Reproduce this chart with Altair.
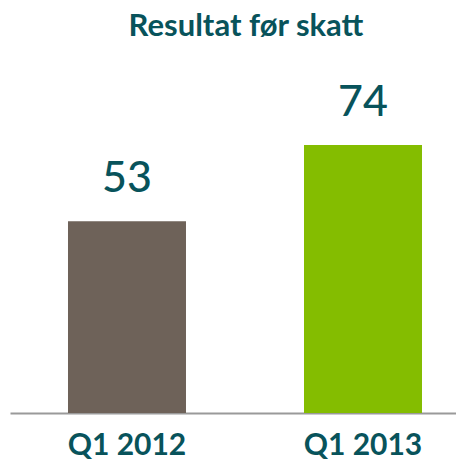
import altair as alt
import pandas as pd

categories = ["Q1 2012", "Q1 2013"]
values = [53, 74]
colors = ["#6e6259", "#84bd00"]

TEAL = "#08535b"
FONT = "Lato"

df = pd.DataFrame({"cat": categories, "val": values, "col": colors})

x = alt.X(
    "cat:N",
    sort=categories,
    title=None,
    scale=alt.Scale(paddingInner=0.5, paddingOuter=0.1949, align=0.6304),
    axis=alt.Axis(
        labelAngle=0,
        ticks=False,
        grid=False,
        domain=True,
        domainColor="#9a9a9a",
        domainWidth=2,
        labelFont=FONT,
        labelFontSize=30,
        labelFontWeight="bold",
        labelColor=TEAL,
        labelBaseline="alphabetic",
        labelPadding=41,
    ),
)
y = alt.Y("val:Q", scale=alt.Scale(domain=[0, 100]), axis=None)

bars = alt.Chart(df).mark_bar().encode(
    x=x, y=y, color=alt.Color("col:N", scale=None)
)
labels = alt.Chart(df).mark_text(
    font=FONT, fontSize=43, fontWeight=500, color=TEAL, baseline="alphabetic", dy=-29
).encode(x=x, y=y, text=alt.Text("val:Q"))

chart = (
    alt.layer(bars, labels)
    .properties(
        width=446,
        height=362,
        padding={"left": 2, "top": 43, "right": 0, "bottom": 47},
        autosize=alt.AutoSizeParams(type="none"),
        title=alt.TitleParams(
            "Resultat før skatt",
            font=FONT,
            fontSize=31,
            fontWeight="bold",
            color=TEAL,
            anchor="middle",
            frame="group",
            offset=8,
            dx=13,
        ),
    )
    .configure_view(stroke=None)
)

chart.save("out.html", embed_options={"renderer": "svg", "actions": False})
